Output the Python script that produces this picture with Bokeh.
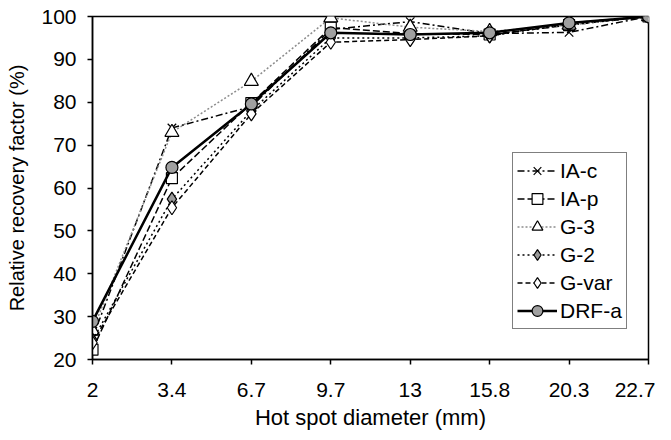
from bokeh.plotting import figure
from bokeh.models import Range1d, FixedTicker, Legend, LegendItem
from bokeh.embed import file_html
from bokeh.resources import INLINE

diameters = ["2", "3.4", "6.7", "9.7", "13", "15.8", "20.3", "22.7"]
ia_c = [25.0, 74.0, 79.0, 97.0, 98.8, 96.0, 96.3, 100.0]
ia_p = [22.3, 62.3, 79.8, 97.4, 96.0, 95.8, 98.0, 100.0]
g_3 = [26.7, 73.0, 84.9, 99.7, 97.5, 96.5, 98.0, 100.0]
g_2 = [24.5, 57.4, 78.0, 95.0, 95.0, 95.5, 98.2, 100.0]
g_var = [23.9, 55.4, 77.3, 94.0, 94.6, 95.5, 98.5, 100.0]
drf_a = [28.9, 64.8, 79.6, 96.2, 95.8, 96.2, 98.5, 100.0]

xs = list(range(len(diameters)))
FONT = "Liberation Sans"

p = figure(width=655, height=432, output_backend="svg", toolbar_location=None,
           x_range=Range1d(0, len(diameters) - 1), y_range=Range1d(20, 100),
           min_border_left=92, min_border_right=7, min_border_top=16, min_border_bottom=70)
p.outline_line_color = "black"
p.outline_line_width = 1.5
p.grid.visible = False

p.xaxis.ticker = FixedTicker(ticks=xs)
p.xaxis.major_label_overrides = {i: d for i, d in enumerate(diameters)}
p.yaxis.ticker = FixedTicker(ticks=list(range(20, 101, 10)))
for ax in (p.xaxis[0], p.yaxis[0]):
    ax.axis_line_width = 1.5
    ax.major_tick_line_width = 1.5
    ax.minor_tick_line_color = None
    ax.major_tick_out = 5
    ax.major_tick_in = 0
    ax.major_label_text_font = FONT
    ax.major_label_text_font_size = "21px"
    ax.major_label_text_color = "black"
    ax.axis_label_text_font = FONT
    ax.axis_label_text_font_style = "normal"
    ax.axis_label_text_color = "black"
p.xaxis.axis_label = "Hot spot diameter (mm)"
p.yaxis.axis_label = "Relative recovery factor (%)"
p.xaxis.axis_label_text_font_size = "22px"
p.yaxis.axis_label_text_font_size = "20px"
p.xaxis.major_label_standoff = 18
p.xaxis.axis_label_standoff = 5
p.yaxis.major_label_standoff = 11
p.yaxis.axis_label_standoff = 10

items = []

r = p.line(xs, ia_c, line_color="black", line_width=1.5, line_dash="7 3 2 3")
m = p.scatter(xs, ia_c, marker="x", size=12, line_color="black", line_width=1.2)
items.append(LegendItem(label="IA-c", renderers=[r, m]))

r = p.line(xs, ia_p, line_color="black", line_width=1.5, line_dash="7 3")
m = p.scatter(xs, ia_p, marker="square", size=11, fill_color="white", line_color="black", line_width=1.2)
items.append(LegendItem(label="IA-p", renderers=[r, m]))

r = p.line(xs, g_3, line_color="#8c8c8c", line_width=1.5, line_dash="2 2")
m = p.scatter(xs, g_3, marker="triangle", size=14, fill_color="white", line_color="black", line_width=1.2)
items.append(LegendItem(label="G-3", renderers=[r, m]))

r = p.line(xs, g_2, line_color="black", line_width=1.5, line_dash="2 3")
m = p.scatter(xs, g_2, marker="diamond", size=14, fill_color="#9a9a9a", line_color="black", line_width=1.2)
items.append(LegendItem(label="G-2", renderers=[r, m]))

r = p.line(xs, g_var, line_color="black", line_width=1.5, line_dash="5 3")
m = p.scatter(xs, g_var, marker="diamond", size=14, fill_color="white", line_color="black", line_width=1.2)
items.append(LegendItem(label="G-var", renderers=[r, m]))

r = p.line(xs, drf_a, line_color="black", line_width=2.5)
m = p.scatter(xs, drf_a, marker="circle", size=12, fill_color="#a0a0a0", line_color="black", line_width=1.2)
items.append(LegendItem(label="DRF-a", renderers=[r, m]))

legend = Legend(items=items, location=(420, 30))
legend.label_text_font = FONT
legend.label_text_font_size = "21px"
legend.label_text_color = "black"
legend.glyph_width = 40
legend.glyph_height = 27
legend.label_height = 27
legend.label_standoff = 3
legend.spacing = 1
legend.padding = 4
legend.margin = 0
legend.border_line_color = "black"
legend.border_line_width = 1.2
legend.background_fill_alpha = 1
p.add_layout(legend)

open("out.html", "w").write(file_html(p, INLINE))
